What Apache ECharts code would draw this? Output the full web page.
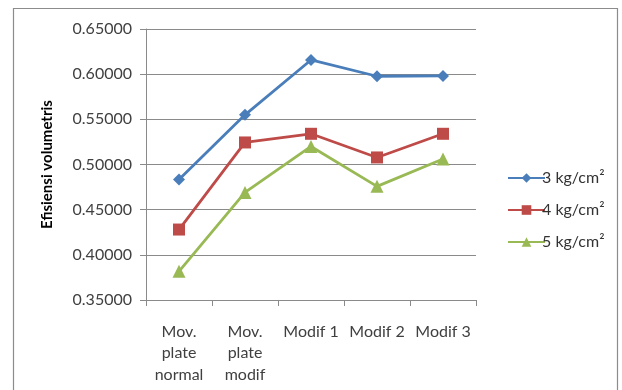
<!DOCTYPE html>
<html>
<head>
<meta charset="utf-8">
<script src="https://cdn.jsdelivr.net/npm/echarts@6/dist/echarts.min.js"></script>
<style>
  html, body { margin: 0; padding: 0; background: #ffffff; }
  #chart { width: 622px; height: 390px; }
</style>
</head>
<body>
<div id="chart"></div>
<script>
// Volumetric efficiency per plate variant, at three pressures
const categories = ['Mov.\nplate\nnormal', 'Mov.\nplate\nmodif', 'Modif 1', 'Modif 2', 'Modif 3'];
const seriesNames = ['3 kg/cm\u00B2', '4 kg/cm\u00B2', '5 kg/cm\u00B2'];
const p3 = [0.4835, 0.5550, 0.6157, 0.5977, 0.5980];
const p4 = [0.4280, 0.5244, 0.5340, 0.5078, 0.5340];
const p5 = [0.3818, 0.4691, 0.5200, 0.4758, 0.5060];
const yTicks = { min: 0.35, max: 0.65, step: 0.05 };

const FONT = 'Lato, "Open Sans", sans-serif';
const colors = ['#4A7EBB', '#BE4B48', '#98B954'];
const symbols = ['diamond', 'rect', 'triangle'];
const symbolSizes = [12, 12, 13];
const values = [p3, p4, p5];

const chart = echarts.init(document.getElementById('chart'), null, { renderer: 'canvas' });

chart.setOption({
  animation: false,
  backgroundColor: '#ffffff',
  color: colors,
  graphic: [{
    type: 'rect',
    shape: { x: 13.5, y: 8.5, width: 604, height: 400 },
    style: { fill: 'none', stroke: '#8c8c8c', lineWidth: 1.2 },
    z: -1
  }],
  grid: { left: 146, right: 146, top: 29, bottom: 90 },
  legend: {
    orient: 'vertical',
    left: 502,
    top: 165,
    itemWidth: 37,
    itemHeight: 12,
    itemGap: 16,
    textStyle: { fontFamily: FONT, fontSize: 16, color: '#333333', padding: [0, 0, 0, -8] },
    data: seriesNames
  },
  xAxis: {
    type: 'category',
    data: categories,
    boundaryGap: true,
    axisLine: { lineStyle: { color: '#8a8a8a', width: 1 } },
    axisTick: { show: true, length: 6, lineStyle: { color: '#8a8a8a' } },
    axisLabel: {
      fontFamily: FONT, fontSize: 16, color: '#404040',
      lineHeight: 21.5, margin: 21, interval: 0
    }
  },
  yAxis: {
    type: 'value',
    min: yTicks.min,
    max: yTicks.max,
    interval: yTicks.step,
    name: 'Efisiensi volumetris',
    nameLocation: 'middle',
    nameGap: 91,
    nameTextStyle: { fontFamily: FONT, fontSize: 15, fontWeight: 'bold', color: '#000000' },
    axisLine: { show: true, lineStyle: { color: '#8a8a8a' } },
    axisTick: { show: true, length: 6, lineStyle: { color: '#8a8a8a' } },
    splitLine: { lineStyle: { color: '#8a8a8a', width: 1 } },
    axisLabel: {
      fontFamily: FONT, fontSize: 16, color: '#404040', margin: 14,
      formatter: v => v.toFixed(5)
    }
  },
  series: seriesNames.map((name, i) => ({
    name,
    type: 'line',
    data: values[i],
    symbol: symbols[i],
    symbolSize: symbolSizes[i],
    lineStyle: { width: 2.8, color: colors[i] },
    itemStyle: { color: colors[i] }
  }))
});
</script>
</body>
</html>
